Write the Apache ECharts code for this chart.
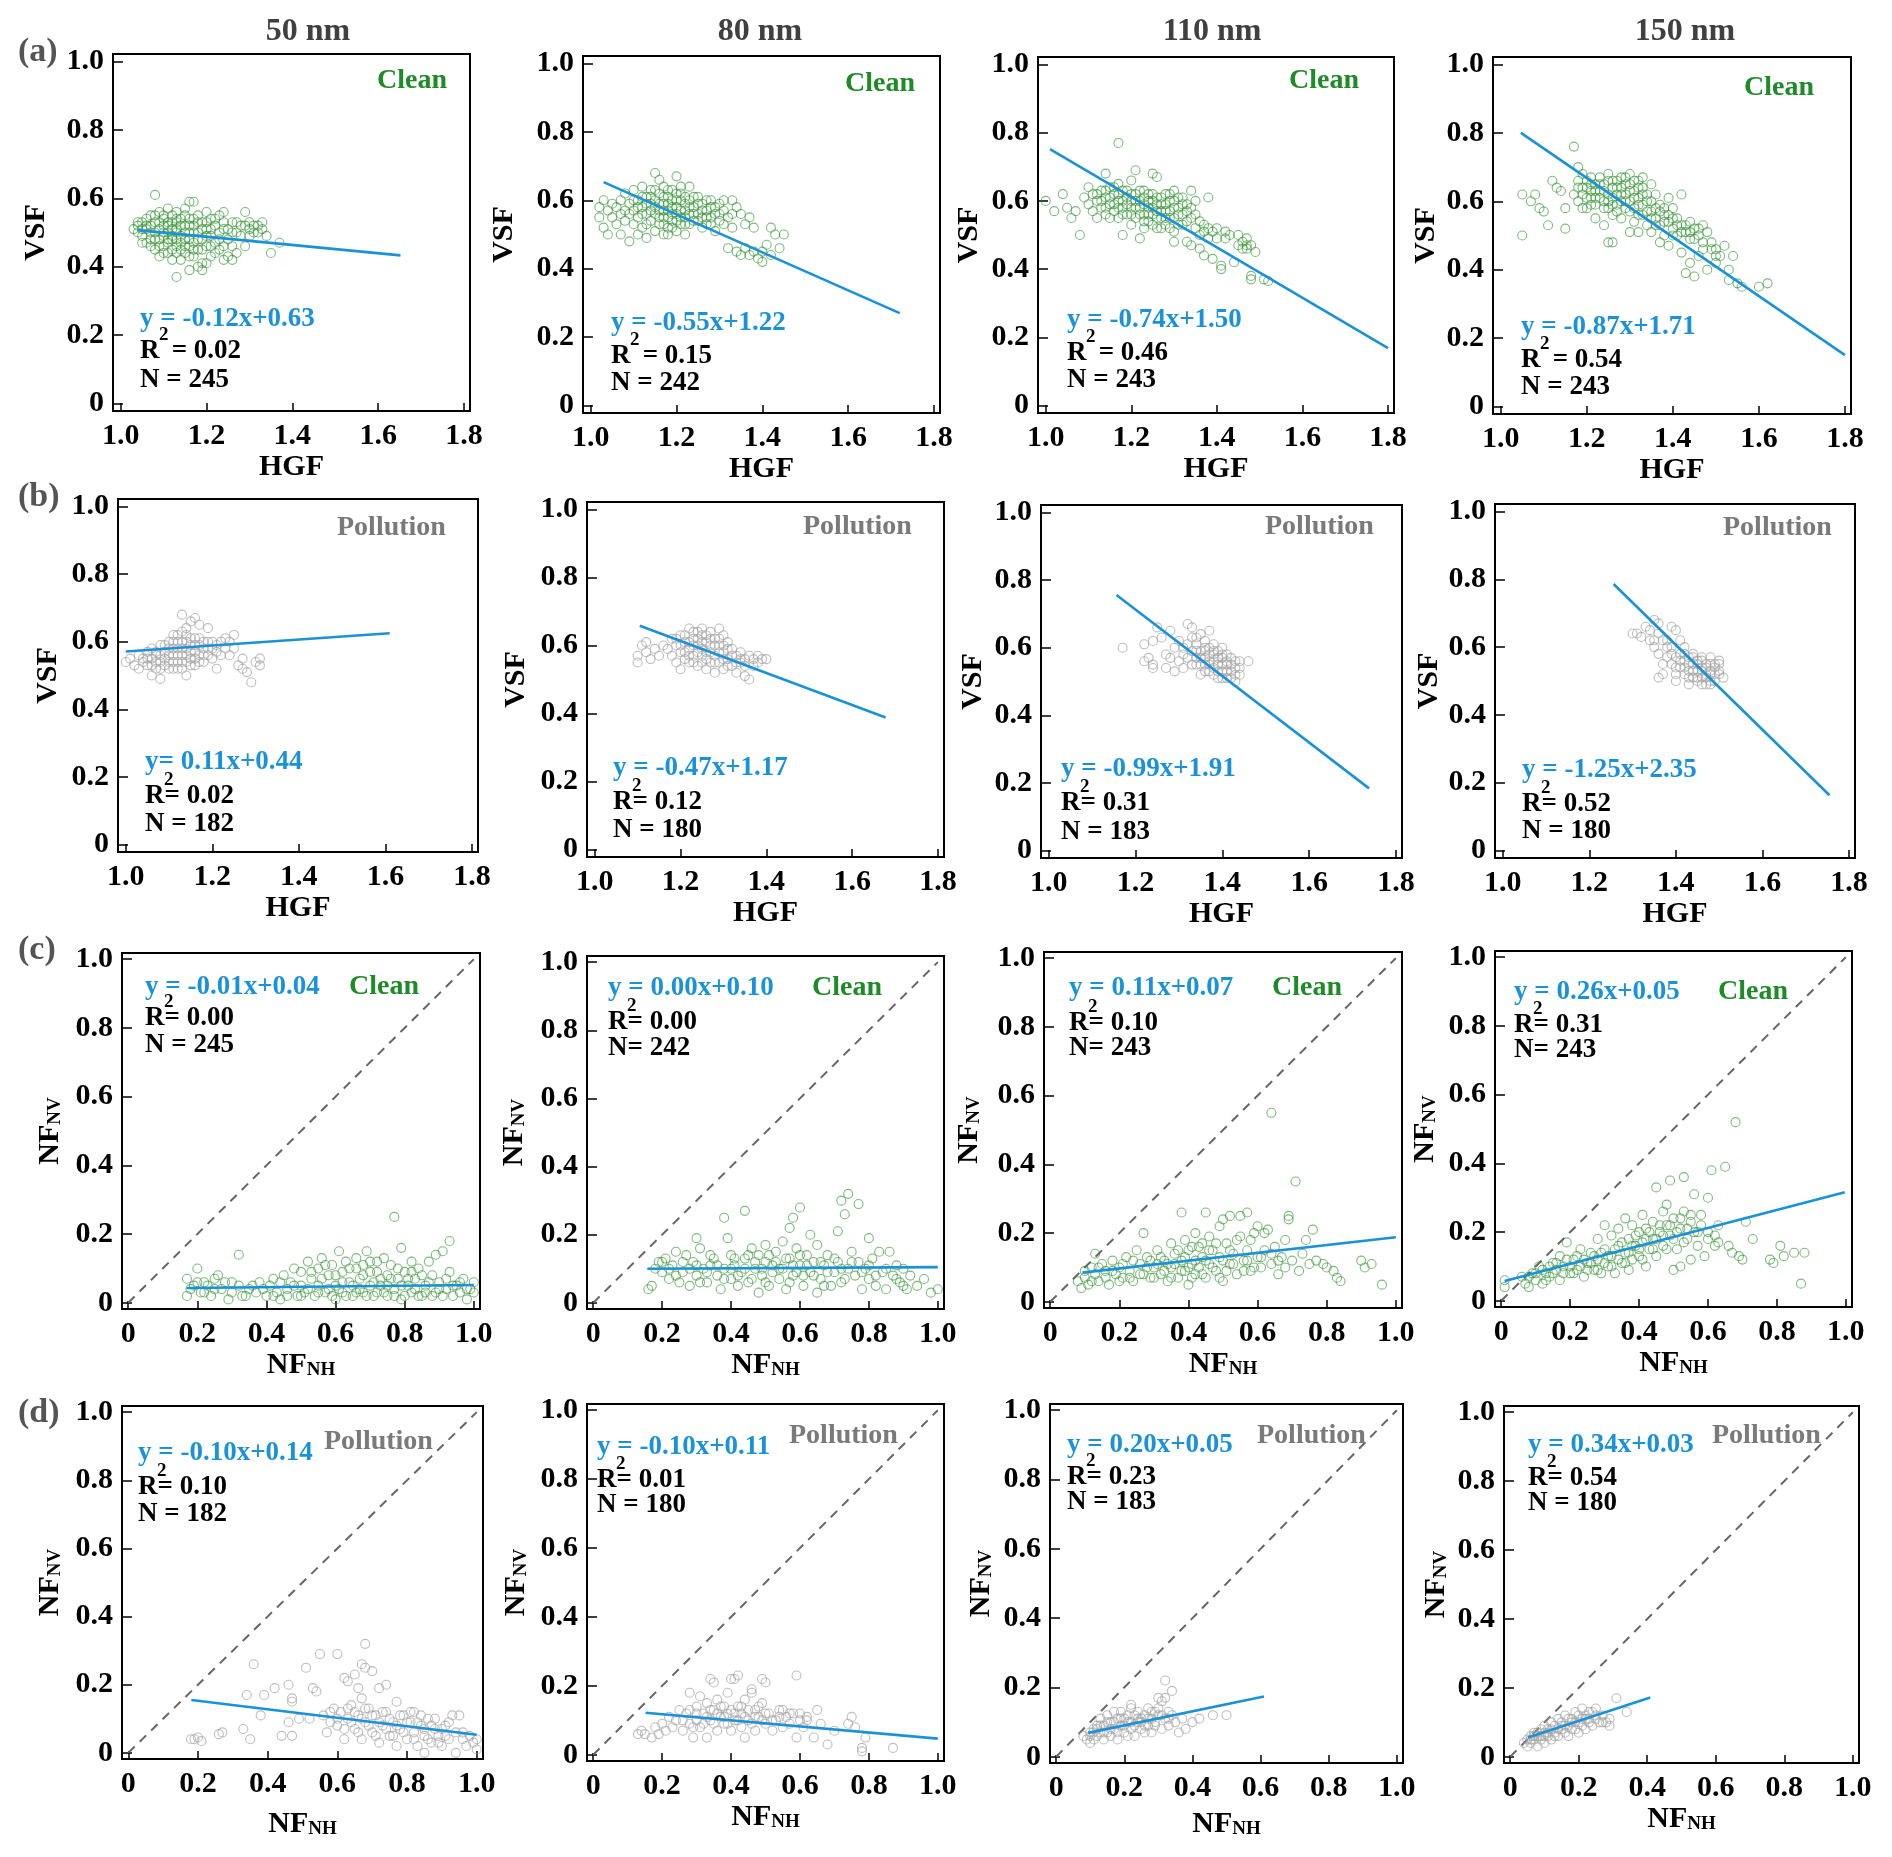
<!DOCTYPE html>
<html><head><meta charset="utf-8">
<script src="https://cdn.jsdelivr.net/npm/echarts@6/dist/echarts.min.js"></script>
<style>html,body{margin:0;padding:0;background:#fff}#c{width:1892px;height:1857px}</style>
</head><body><div id="c"></div>
<script>
// ---------------- DATA ----------------
const sizeTitles = ['50 nm', '80 nm', '110 nm', '150 nm'];
const rowLetters = ['(a)', '(b)', '(c)', '(d)'];
const hgfTicks = [1.0, 1.2, 1.4, 1.6, 1.8];
const fracTicks = [0, 0.2, 0.4, 0.6, 0.8, 1.0];

// (a) Clean: HGF vs VSF
const cleanHgfVsf50 = [[1.03,0.51],[1.04,0.52],[1.04,0.50],[1.05,0.53],[1.05,0.49],[1.06,0.54],[1.06,0.51],[1.06,0.47],[1.07,0.55],[1.07,0.52],[1.07,0.48],[1.08,0.61],[1.08,0.53],[1.08,0.50],[1.08,0.45],[1.09,0.56],[1.09,0.51],[1.09,0.48],[1.09,0.43],[1.10,0.54],[1.10,0.52],[1.10,0.49],[1.10,0.46],[1.11,0.57],[1.11,0.53],[1.11,0.50],[1.11,0.47],[1.11,0.44],[1.12,0.55],[1.12,0.51],[1.12,0.48],[1.12,0.42],[1.13,0.37],[1.13,0.56],[1.13,0.53],[1.13,0.50],[1.13,0.46],[1.14,0.54],[1.14,0.49],[1.14,0.45],[1.15,0.57],[1.15,0.52],[1.15,0.48],[1.15,0.44],[1.16,0.59],[1.16,0.54],[1.16,0.50],[1.16,0.46],[1.16,0.39],[1.17,0.59],[1.17,0.52],[1.17,0.47],[1.17,0.43],[1.18,0.55],[1.18,0.50],[1.18,0.45],[1.18,0.40],[1.19,0.53],[1.19,0.48],[1.19,0.41],[1.20,0.56],[1.20,0.51],[1.20,0.46],[1.21,0.54],[1.21,0.49],[1.21,0.43],[1.22,0.52],[1.22,0.47],[1.23,0.55],[1.23,0.50],[1.23,0.45],[1.24,0.56],[1.24,0.51],[1.25,0.48],[1.25,0.43],[1.26,0.53],[1.26,0.46],[1.27,0.50],[1.27,0.44],[1.28,0.52],[1.29,0.56],[1.29,0.46],[1.30,0.51],[1.30,0.49],[1.31,0.52],[1.32,0.50],[1.32,0.52],[1.33,0.51],[1.34,0.49],[1.35,0.44],[1.37,0.47],
  [1.04,0.53],[1.05,0.51],[1.05,0.47],[1.06,0.52],[1.07,0.50],[1.07,0.46],[1.08,0.55],[1.08,0.48],[1.09,0.53],[1.09,0.46],[1.10,0.55],[1.10,0.50],[1.10,0.44],[1.11,0.52],[1.11,0.48],[1.12,0.53],[1.12,0.49],[1.12,0.45],[1.13,0.54],[1.13,0.51],[1.13,0.48],[1.13,0.44],[1.14,0.52],[1.14,0.47],[1.14,0.42],[1.15,0.55],[1.15,0.50],[1.15,0.46],[1.16,0.52],[1.16,0.48],[1.16,0.43],[1.17,0.54],[1.17,0.50],[1.17,0.45],[1.18,0.53],[1.18,0.48],[1.19,0.51],[1.19,0.45],[1.20,0.53],[1.20,0.49],[1.21,0.51],[1.21,0.46],[1.22,0.54],[1.22,0.44],[1.23,0.48],[1.24,0.53],[1.24,0.46],[1.25,0.51],[1.26,0.50],[1.27,0.53],[1.28,0.49],[1.29,0.52],[1.30,0.53],[1.31,0.50],[1.33,0.53],[1.24,0.42],[1.26,0.42],[1.19,0.39],[1.20,0.41]];
const cleanHgfVsf80 = [[1.02,0.58],[1.02,0.55],[1.03,0.60],[1.03,0.52],[1.04,0.57],[1.04,0.50],[1.05,0.59],[1.05,0.55],[1.06,0.58],[1.06,0.53],[1.07,0.60],[1.07,0.56],[1.07,0.50],[1.08,0.62],[1.08,0.57],[1.08,0.54],[1.09,0.59],[1.09,0.48],[1.10,0.63],[1.10,0.57],[1.10,0.53],[1.11,0.60],[1.11,0.55],[1.11,0.50],[1.12,0.64],[1.12,0.58],[1.12,0.52],[1.13,0.61],[1.13,0.56],[1.13,0.49],[1.14,0.63],[1.14,0.59],[1.14,0.54],[1.15,0.68],[1.15,0.60],[1.15,0.56],[1.15,0.51],[1.16,0.66],[1.16,0.62],[1.16,0.57],[1.16,0.53],[1.17,0.64],[1.17,0.59],[1.17,0.55],[1.17,0.50],[1.18,0.61],[1.18,0.57],[1.18,0.52],[1.19,0.63],[1.19,0.58],[1.19,0.54],[1.20,0.67],[1.20,0.60],[1.20,0.56],[1.20,0.51],[1.21,0.62],[1.21,0.57],[1.21,0.53],[1.22,0.59],[1.22,0.55],[1.22,0.50],[1.23,0.64],[1.23,0.58],[1.23,0.53],[1.24,0.61],[1.24,0.56],[1.25,0.59],[1.25,0.54],[1.26,0.57],[1.26,0.52],[1.27,0.60],[1.27,0.55],[1.28,0.58],[1.28,0.53],[1.29,0.56],[1.29,0.51],[1.30,0.59],[1.30,0.54],[1.31,0.57],[1.32,0.55],[1.32,0.46],[1.33,0.60],[1.33,0.52],[1.34,0.45],[1.35,0.56],[1.35,0.44],[1.36,0.53],[1.37,0.55],[1.38,0.45],[1.38,0.52],[1.39,0.43],[1.40,0.42],[1.41,0.47],[1.42,0.52],[1.43,0.50],[1.44,0.46],[1.45,0.50],
  [1.09,0.56],[1.10,0.60],[1.11,0.58],[1.12,0.56],[1.12,0.61],[1.13,0.59],[1.13,0.53],[1.14,0.57],[1.14,0.61],[1.15,0.58],[1.15,0.63],[1.16,0.59],[1.16,0.55],[1.17,0.61],[1.17,0.57],[1.17,0.53],[1.18,0.63],[1.18,0.59],[1.18,0.55],[1.18,0.50],[1.19,0.60],[1.19,0.56],[1.19,0.52],[1.20,0.62],[1.20,0.58],[1.20,0.54],[1.21,0.64],[1.21,0.60],[1.21,0.55],[1.22,0.61],[1.22,0.57],[1.22,0.53],[1.23,0.60],[1.23,0.56],[1.24,0.58],[1.24,0.54],[1.25,0.61],[1.25,0.56],[1.26,0.59],[1.26,0.55],[1.27,0.57],[1.27,0.53],[1.28,0.60],[1.28,0.55],[1.29,0.58],[1.30,0.56],[1.31,0.60],[1.31,0.53],[1.33,0.56],[1.34,0.58],[1.36,0.46],[1.37,0.44],[1.40,0.45],[1.42,0.44]];
const cleanHgfVsf110 = [[1.00,0.60],[1.02,0.57],[1.04,0.62],[1.05,0.58],[1.06,0.55],[1.07,0.57],[1.08,0.50],[1.09,0.61],[1.10,0.64],[1.10,0.59],[1.11,0.62],[1.11,0.57],[1.12,0.60],[1.12,0.55],[1.13,0.63],[1.13,0.58],[1.14,0.68],[1.14,0.61],[1.14,0.56],[1.15,0.64],[1.15,0.59],[1.15,0.55],[1.16,0.62],[1.16,0.57],[1.17,0.77],[1.17,0.65],[1.17,0.60],[1.17,0.55],[1.18,0.63],[1.18,0.58],[1.18,0.50],[1.19,0.61],[1.19,0.56],[1.20,0.66],[1.20,0.62],[1.20,0.58],[1.20,0.53],[1.21,0.69],[1.21,0.60],[1.21,0.55],[1.22,0.63],[1.22,0.58],[1.22,0.49],[1.23,0.61],[1.23,0.56],[1.23,0.52],[1.24,0.62],[1.24,0.58],[1.24,0.54],[1.25,0.68],[1.25,0.60],[1.25,0.56],[1.26,0.67],[1.26,0.61],[1.26,0.57],[1.26,0.52],[1.27,0.59],[1.27,0.55],[1.28,0.62],[1.28,0.57],[1.28,0.53],[1.29,0.60],[1.29,0.55],[1.30,0.63],[1.30,0.58],[1.30,0.51],[1.30,0.48],[1.31,0.61],[1.31,0.56],[1.32,0.59],[1.32,0.53],[1.33,0.57],[1.33,0.48],[1.34,0.63],[1.34,0.55],[1.34,0.47],[1.35,0.60],[1.35,0.52],[1.36,0.50],[1.36,0.46],[1.37,0.53],[1.37,0.44],[1.38,0.61],[1.38,0.52],[1.39,0.43],[1.40,0.52],[1.40,0.49],[1.41,0.41],[1.41,0.40],[1.42,0.51],[1.43,0.50],[1.44,0.42],[1.45,0.50],[1.46,0.48],[1.47,0.46],[1.47,0.49],[1.48,0.47],[1.48,0.38],[1.48,0.37],[1.49,0.45],[1.51,0.37],[1.52,0.365],
  [1.12,0.62],[1.13,0.60],[1.14,0.63],[1.14,0.58],[1.15,0.61],[1.16,0.64],[1.16,0.59],[1.17,0.62],[1.17,0.58],[1.18,0.60],[1.18,0.56],[1.19,0.63],[1.19,0.59],[1.20,0.60],[1.20,0.56],[1.21,0.62],[1.21,0.58],[1.22,0.60],[1.22,0.56],[1.23,0.63],[1.23,0.59],[1.23,0.54],[1.24,0.60],[1.24,0.56],[1.25,0.62],[1.25,0.58],[1.25,0.53],[1.26,0.59],[1.26,0.55],[1.27,0.61],[1.27,0.57],[1.27,0.52],[1.28,0.59],[1.28,0.55],[1.29,0.62],[1.29,0.57],[1.29,0.52],[1.30,0.60],[1.30,0.55],[1.31,0.58],[1.31,0.53],[1.32,0.61],[1.32,0.56],[1.33,0.59],[1.33,0.54],[1.34,0.58],[1.35,0.56],[1.36,0.54],[1.37,0.51],[1.38,0.49],[1.39,0.51],[1.42,0.49],[1.45,0.47],[1.46,0.46],[1.47,0.47]];
const cleanHgfVsf150 = [[1.05,0.62],[1.05,0.50],[1.07,0.60],[1.08,0.62],[1.09,0.58],[1.10,0.57],[1.11,0.53],[1.12,0.66],[1.13,0.64],[1.14,0.63],[1.15,0.52],[1.15,0.58],[1.17,0.76],[1.17,0.62],[1.18,0.70],[1.18,0.66],[1.18,0.60],[1.19,0.68],[1.19,0.64],[1.19,0.58],[1.20,0.66],[1.20,0.61],[1.21,0.67],[1.21,0.63],[1.21,0.59],[1.22,0.65],[1.22,0.61],[1.22,0.55],[1.23,0.67],[1.23,0.63],[1.24,0.65],[1.24,0.60],[1.24,0.53],[1.25,0.68],[1.25,0.62],[1.25,0.58],[1.25,0.48],[1.26,0.66],[1.26,0.61],[1.26,0.56],[1.26,0.48],[1.27,0.64],[1.27,0.59],[1.28,0.67],[1.28,0.62],[1.28,0.55],[1.29,0.65],[1.29,0.60],[1.30,0.68],[1.30,0.63],[1.30,0.57],[1.30,0.51],[1.31,0.66],[1.31,0.61],[1.31,0.54],[1.32,0.64],[1.32,0.59],[1.32,0.51],[1.33,0.67],[1.33,0.62],[1.33,0.56],[1.34,0.60],[1.34,0.53],[1.35,0.65],[1.35,0.57],[1.35,0.51],[1.36,0.62],[1.36,0.55],[1.37,0.59],[1.37,0.53],[1.37,0.48],[1.38,0.56],[1.38,0.50],[1.39,0.61],[1.39,0.54],[1.39,0.47],[1.40,0.58],[1.40,0.52],[1.41,0.55],[1.41,0.50],[1.42,0.62],[1.42,0.53],[1.42,0.45],[1.43,0.51],[1.43,0.39],[1.44,0.54],[1.44,0.49],[1.44,0.42],[1.45,0.52],[1.45,0.38],[1.46,0.50],[1.46,0.44],[1.47,0.53],[1.47,0.46],[1.48,0.40],[1.49,0.48],[1.50,0.46],[1.50,0.42],[1.51,0.44],[1.52,0.47],[1.53,0.40],[1.53,0.37],[1.54,0.44],[1.55,0.36],[1.56,0.35],[1.60,0.35],[1.62,0.36],
  [1.18,0.64],[1.19,0.62],[1.20,0.64],[1.20,0.58],[1.21,0.65],[1.21,0.61],[1.22,0.63],[1.22,0.59],[1.23,0.65],[1.23,0.61],[1.24,0.63],[1.24,0.58],[1.25,0.66],[1.25,0.60],[1.26,0.64],[1.26,0.59],[1.27,0.66],[1.27,0.62],[1.27,0.57],[1.28,0.64],[1.28,0.60],[1.29,0.67],[1.29,0.62],[1.29,0.58],[1.30,0.65],[1.30,0.60],[1.31,0.63],[1.31,0.58],[1.32,0.66],[1.32,0.61],[1.32,0.56],[1.33,0.64],[1.33,0.59],[1.34,0.62],[1.34,0.57],[1.35,0.60],[1.35,0.55],[1.36,0.58],[1.36,0.53],[1.37,0.57],[1.38,0.58],[1.38,0.54],[1.39,0.56],[1.40,0.55],[1.40,0.50],[1.41,0.53],[1.42,0.51],[1.43,0.53],[1.44,0.51],[1.45,0.49],[1.46,0.52],[1.47,0.48],[1.48,0.51],[1.49,0.46],[1.50,0.44]];

// (b) Pollution: HGF vs VSF
const pollHgfVsf50 = [[1.00,0.54],[1.01,0.55],[1.02,0.53],[1.03,0.56],[1.03,0.52],[1.04,0.55],[1.05,0.57],[1.05,0.53],[1.06,0.58],[1.06,0.55],[1.06,0.50],[1.07,0.56],[1.07,0.52],[1.08,0.59],[1.08,0.54],[1.08,0.49],[1.09,0.57],[1.09,0.53],[1.10,0.60],[1.10,0.56],[1.10,0.52],[1.11,0.62],[1.11,0.58],[1.11,0.54],[1.12,0.60],[1.12,0.56],[1.12,0.52],[1.13,0.68],[1.13,0.63],[1.13,0.58],[1.13,0.54],[1.14,0.64],[1.14,0.60],[1.14,0.56],[1.14,0.50],[1.15,0.66],[1.15,0.61],[1.15,0.57],[1.15,0.53],[1.16,0.67],[1.16,0.59],[1.16,0.55],[1.17,0.65],[1.17,0.61],[1.17,0.56],[1.18,0.58],[1.18,0.54],[1.19,0.64],[1.19,0.60],[1.19,0.56],[1.20,0.58],[1.20,0.55],[1.21,0.57],[1.21,0.52],[1.22,0.60],[1.22,0.56],[1.23,0.61],[1.24,0.56],[1.25,0.62],[1.25,0.58],[1.26,0.53],[1.27,0.55],[1.27,0.52],[1.28,0.51],[1.29,0.48],[1.30,0.54],[1.31,0.53],[1.31,0.55],
  [1.04,0.54],[1.05,0.55],[1.06,0.53],[1.07,0.57],[1.07,0.54],[1.08,0.56],[1.08,0.52],[1.09,0.55],[1.09,0.59],[1.10,0.58],[1.10,0.54],[1.11,0.56],[1.11,0.60],[1.11,0.52],[1.12,0.58],[1.12,0.54],[1.12,0.62],[1.13,0.60],[1.13,0.56],[1.13,0.52],[1.14,0.58],[1.14,0.62],[1.14,0.54],[1.15,0.59],[1.15,0.55],[1.16,0.61],[1.16,0.57],[1.16,0.53],[1.17,0.59],[1.17,0.54],[1.18,0.60],[1.18,0.56],[1.19,0.58],[1.20,0.60],[1.21,0.59],[1.23,0.58],[1.24,0.60]];
const pollHgfVsf80 = [[1.10,0.57],[1.10,0.55],[1.11,0.60],[1.12,0.61],[1.12,0.58],[1.13,0.56],[1.14,0.59],[1.15,0.57],[1.16,0.60],[1.17,0.59],[1.18,0.62],[1.18,0.57],[1.19,0.60],[1.19,0.55],[1.20,0.63],[1.20,0.58],[1.20,0.53],[1.21,0.61],[1.21,0.56],[1.22,0.65],[1.22,0.59],[1.22,0.55],[1.23,0.62],[1.23,0.57],[1.24,0.64],[1.24,0.60],[1.24,0.54],[1.25,0.65],[1.25,0.61],[1.25,0.57],[1.26,0.63],[1.26,0.58],[1.26,0.53],[1.27,0.64],[1.27,0.60],[1.27,0.55],[1.28,0.62],[1.28,0.57],[1.28,0.52],[1.29,0.65],[1.29,0.60],[1.29,0.55],[1.30,0.63],[1.30,0.58],[1.30,0.53],[1.31,0.61],[1.31,0.56],[1.32,0.59],[1.32,0.54],[1.33,0.57],[1.33,0.52],[1.34,0.58],[1.34,0.55],[1.35,0.56],[1.35,0.51],[1.36,0.57],[1.36,0.50],[1.37,0.54],[1.38,0.55],[1.39,0.56],[1.40,0.56],
  [1.19,0.62],[1.20,0.60],[1.21,0.63],[1.21,0.58],[1.22,0.61],[1.22,0.57],[1.23,0.64],[1.23,0.60],[1.23,0.55],[1.24,0.62],[1.24,0.58],[1.25,0.63],[1.25,0.59],[1.25,0.55],[1.26,0.61],[1.26,0.56],[1.27,0.62],[1.27,0.58],[1.28,0.60],[1.28,0.55],[1.29,0.62],[1.29,0.58],[1.30,0.60],[1.30,0.56],[1.31,0.59],[1.31,0.54],[1.32,0.57],[1.33,0.55],[1.34,0.56],[1.35,0.54],[1.37,0.56],[1.38,0.57]];
const pollHgfVsf110 = [[1.17,0.60],[1.22,0.61],[1.22,0.56],[1.23,0.57],[1.24,0.55],[1.24,0.62],[1.25,0.66],[1.26,0.63],[1.27,0.58],[1.28,0.57],[1.28,0.65],[1.24,0.54],[1.29,0.60],[1.30,0.56],[1.30,0.62],[1.31,0.58],[1.31,0.54],[1.32,0.67],[1.32,0.61],[1.32,0.57],[1.33,0.66],[1.33,0.63],[1.33,0.59],[1.33,0.55],[1.34,0.61],[1.34,0.57],[1.35,0.64],[1.35,0.59],[1.35,0.55],[1.35,0.52],[1.36,0.60],[1.36,0.57],[1.36,0.53],[1.37,0.65],[1.37,0.58],[1.37,0.55],[1.38,0.61],[1.38,0.56],[1.38,0.52],[1.39,0.59],[1.39,0.55],[1.39,0.51],[1.40,0.60],[1.40,0.57],[1.40,0.53],[1.41,0.58],[1.41,0.55],[1.41,0.51],[1.42,0.57],[1.42,0.53],[1.43,0.56],[1.43,0.52],[1.44,0.54],[1.44,0.52],[1.46,0.56],[1.27,0.54],[1.29,0.53],
  [1.34,0.59],[1.34,0.55],[1.35,0.57],[1.36,0.62],[1.36,0.55],[1.37,0.60],[1.37,0.56],[1.37,0.53],[1.38,0.59],[1.38,0.54],[1.39,0.57],[1.39,0.53],[1.40,0.58],[1.40,0.55],[1.40,0.51],[1.41,0.56],[1.41,0.53],[1.42,0.55],[1.42,0.51],[1.43,0.54],[1.43,0.50],[1.44,0.56],[1.36,0.59],[1.34,0.63],[1.31,0.60],[1.38,0.58]];
const pollHgfVsf150 = [[1.30,0.64],[1.31,0.64],[1.32,0.63],[1.33,0.66],[1.34,0.65],[1.34,0.62],[1.35,0.68],[1.36,0.67],[1.35,0.60],[1.36,0.58],[1.37,0.55],[1.36,0.51],[1.37,0.52],[1.37,0.62],[1.38,0.57],[1.38,0.60],[1.39,0.66],[1.40,0.65],[1.41,0.62],[1.39,0.60],[1.39,0.55],[1.40,0.57],[1.40,0.52],[1.41,0.58],[1.41,0.54],[1.42,0.56],[1.42,0.52],[1.42,0.60],[1.43,0.57],[1.43,0.53],[1.44,0.55],[1.44,0.51],[1.44,0.58],[1.45,0.56],[1.45,0.53],[1.45,0.50],[1.46,0.57],[1.46,0.54],[1.46,0.51],[1.47,0.55],[1.47,0.52],[1.47,0.49],[1.48,0.57],[1.48,0.53],[1.48,0.50],[1.49,0.55],[1.49,0.52],[1.50,0.56],[1.50,0.55],[1.50,0.53],[1.51,0.51],[1.43,0.49],[1.40,0.50],
  [1.40,0.54],[1.41,0.56],[1.42,0.58],[1.42,0.54],[1.43,0.55],[1.43,0.51],[1.44,0.57],[1.44,0.53],[1.45,0.55],[1.45,0.51],[1.46,0.56],[1.46,0.53],[1.46,0.49],[1.47,0.54],[1.47,0.51],[1.48,0.55],[1.48,0.52],[1.48,0.49],[1.49,0.54],[1.49,0.50],[1.50,0.52],[1.39,0.58],[1.38,0.62],[1.36,0.64],[1.35,0.62]];

// (c) Clean: NF_NH vs NF_NV
const cleanNf50 = [[0.17,0.07],[0.17,0.02],[0.18,0.04],[0.19,0.05],[0.20,0.10],[0.21,0.03],[0.22,0.06],[0.23,0.05],[0.24,0.02],[0.25,0.07],[0.26,0.08],[0.27,0.04],[0.28,0.06],[0.29,0.01],[0.30,0.03],[0.32,0.14],[0.32,0.05],[0.33,0.02],[0.35,0.04],[0.37,0.03],[0.38,0.06],[0.40,0.02],[0.41,0.05],[0.42,0.07],[0.43,0.03],[0.44,0.01],[0.45,0.08],[0.46,0.04],[0.47,0.06],[0.48,0.10],[0.49,0.02],[0.50,0.09],[0.50,0.05],[0.51,0.03],[0.52,0.12],[0.53,0.07],[0.54,0.02],[0.55,0.10],[0.55,0.05],[0.56,0.13],[0.57,0.03],[0.58,0.08],[0.59,0.11],[0.60,0.05],[0.60,0.01],[0.61,0.15],[0.62,0.09],[0.62,0.03],[0.63,0.12],[0.64,0.06],[0.65,0.02],[0.66,0.10],[0.66,0.13],[0.67,0.04],[0.68,0.08],[0.69,0.15],[0.69,0.02],[0.70,0.12],[0.71,0.06],[0.72,0.09],[0.72,0.03],[0.73,0.05],[0.74,0.13],[0.75,0.08],[0.75,0.02],[0.76,0.11],[0.77,0.25],[0.77,0.04],[0.78,0.07],[0.79,0.16],[0.79,0.01],[0.80,0.09],[0.81,0.05],[0.82,0.12],[0.82,0.03],[0.83,0.07],[0.84,0.10],[0.85,0.02],[0.86,0.05],[0.87,0.12],[0.88,0.08],[0.89,0.14],[0.89,0.03],[0.90,0.06],[0.91,0.15],[0.92,0.04],[0.93,0.18],[0.93,0.09],[0.94,0.02],[0.95,0.05],[0.96,0.03],[0.97,0.07],[0.98,0.01],[0.99,0.04],[1.00,0.03],[1.00,0.06],
  [0.20,0.06],[0.22,0.03],[0.25,0.04],[0.30,0.06],[0.34,0.02],[0.36,0.05],[0.39,0.04],[0.42,0.02],[0.44,0.06],[0.46,0.02],[0.48,0.05],[0.50,0.02],[0.52,0.04],[0.53,0.09],[0.55,0.03],[0.56,0.07],[0.57,0.11],[0.58,0.04],[0.59,0.02],[0.60,0.08],[0.61,0.04],[0.62,0.06],[0.63,0.02],[0.64,0.10],[0.65,0.05],[0.66,0.03],[0.67,0.07],[0.68,0.11],[0.68,0.03],[0.70,0.05],[0.70,0.09],[0.71,0.02],[0.72,0.12],[0.73,0.07],[0.74,0.03],[0.75,0.05],[0.76,0.07],[0.77,0.02],[0.78,0.10],[0.79,0.05],[0.80,0.02],[0.81,0.07],[0.82,0.09],[0.83,0.04],[0.84,0.02],[0.85,0.08],[0.86,0.03],[0.87,0.06],[0.88,0.02],[0.90,0.04],[0.91,0.02],[0.92,0.07],[0.94,0.05],[0.96,0.06],[0.98,0.04]];
const cleanNf80 = [[0.16,0.04],[0.17,0.05],[0.18,0.10],[0.19,0.12],[0.20,0.09],[0.21,0.13],[0.22,0.07],[0.23,0.11],[0.24,0.15],[0.25,0.06],[0.26,0.09],[0.27,0.14],[0.28,0.05],[0.29,0.12],[0.30,0.19],[0.30,0.08],[0.31,0.16],[0.32,0.10],[0.33,0.06],[0.34,0.11],[0.35,0.13],[0.36,0.08],[0.37,0.04],[0.38,0.25],[0.38,0.10],[0.39,0.19],[0.40,0.07],[0.40,0.14],[0.41,0.11],[0.42,0.05],[0.43,0.09],[0.44,0.27],[0.44,0.13],[0.45,0.06],[0.46,0.16],[0.47,0.10],[0.48,0.03],[0.48,0.14],[0.49,0.08],[0.50,0.12],[0.50,0.17],[0.51,0.05],[0.52,0.11],[0.53,0.15],[0.54,0.07],[0.55,0.18],[0.55,0.10],[0.56,0.04],[0.57,0.22],[0.57,0.13],[0.58,0.25],[0.58,0.08],[0.59,0.16],[0.60,0.28],[0.60,0.11],[0.61,0.05],[0.62,0.14],[0.63,0.20],[0.63,0.09],[0.64,0.12],[0.65,0.17],[0.65,0.03],[0.66,0.07],[0.67,0.11],[0.68,0.14],[0.69,0.05],[0.70,0.09],[0.71,0.21],[0.71,0.12],[0.72,0.30],[0.72,0.06],[0.73,0.26],[0.74,0.32],[0.74,0.10],[0.75,0.15],[0.76,0.08],[0.77,0.29],[0.77,0.12],[0.78,0.04],[0.79,0.10],[0.80,0.19],[0.80,0.07],[0.81,0.13],[0.82,0.05],[0.83,0.15],[0.84,0.09],[0.85,0.04],[0.86,0.15],[0.87,0.08],[0.88,0.11],[0.89,0.06],[0.90,0.10],[0.91,0.04],[0.92,0.08],[0.94,0.05],[0.96,0.07],[0.98,0.03],[1.00,0.04],
  [0.20,0.12],[0.22,0.10],[0.24,0.08],[0.26,0.12],[0.28,0.10],[0.30,0.11],[0.31,0.06],[0.33,0.09],[0.34,0.14],[0.36,0.11],[0.38,0.07],[0.40,0.10],[0.41,0.13],[0.42,0.08],[0.44,0.10],[0.45,0.14],[0.46,0.07],[0.47,0.12],[0.49,0.10],[0.50,0.06],[0.51,0.14],[0.52,0.09],[0.53,0.12],[0.54,0.10],[0.56,0.13],[0.57,0.06],[0.58,0.11],[0.59,0.09],[0.60,0.14],[0.61,0.08],[0.62,0.11],[0.64,0.08],[0.66,0.12],[0.67,0.05],[0.68,0.09],[0.70,0.13],[0.72,0.10],[0.73,0.07],[0.75,0.12],[0.78,0.09],[0.80,0.11],[0.82,0.08],[0.85,0.10],[0.88,0.07],[0.90,0.05]];
const cleanNf110 = [[0.08,0.06],[0.09,0.04],[0.10,0.07],[0.11,0.05],[0.12,0.10],[0.13,0.14],[0.13,0.08],[0.14,0.06],[0.15,0.11],[0.16,0.09],[0.17,0.05],[0.18,0.12],[0.19,0.08],[0.20,0.10],[0.21,0.07],[0.22,0.13],[0.23,0.09],[0.24,0.06],[0.25,0.15],[0.26,0.11],[0.27,0.20],[0.27,0.08],[0.28,0.13],[0.29,0.07],[0.30,0.10],[0.31,0.15],[0.32,0.08],[0.33,0.12],[0.34,0.06],[0.35,0.17],[0.35,0.10],[0.36,0.14],[0.37,0.07],[0.38,0.26],[0.38,0.12],[0.39,0.18],[0.39,0.09],[0.40,0.15],[0.40,0.05],[0.41,0.11],[0.42,0.20],[0.42,0.08],[0.43,0.16],[0.44,0.13],[0.45,0.26],[0.45,0.07],[0.46,0.19],[0.46,0.11],[0.47,0.15],[0.48,0.09],[0.49,0.22],[0.49,0.13],[0.50,0.24],[0.50,0.06],[0.51,0.17],[0.52,0.25],[0.52,0.11],[0.53,0.14],[0.54,0.08],[0.55,0.25],[0.55,0.19],[0.56,0.12],[0.57,0.26],[0.57,0.15],[0.58,0.09],[0.59,0.20],[0.60,0.13],[0.60,0.22],[0.61,0.10],[0.62,0.15],[0.63,0.21],[0.64,0.55],[0.64,0.11],[0.65,0.16],[0.66,0.08],[0.67,0.13],[0.68,0.18],[0.69,0.25],[0.69,0.24],[0.70,0.12],[0.71,0.35],[0.72,0.09],[0.73,0.14],[0.74,0.18],[0.75,0.11],[0.76,0.21],[0.77,0.12],[0.79,0.11],[0.80,0.10],[0.82,0.09],[0.83,0.07],[0.84,0.06],[0.90,0.12],[0.91,0.10],[0.93,0.11],[0.96,0.05],
  [0.10,0.09],[0.12,0.06],[0.14,0.10],[0.16,0.07],[0.18,0.09],[0.20,0.06],[0.21,0.11],[0.23,0.07],[0.24,0.12],[0.26,0.08],[0.28,0.10],[0.29,0.12],[0.30,0.07],[0.31,0.11],[0.32,0.13],[0.33,0.09],[0.34,0.11],[0.35,0.07],[0.36,0.11],[0.37,0.15],[0.38,0.09],[0.39,0.13],[0.40,0.10],[0.41,0.16],[0.41,0.07],[0.42,0.12],[0.43,0.10],[0.44,0.17],[0.44,0.08],[0.45,0.12],[0.46,0.15],[0.47,0.10],[0.48,0.17],[0.49,0.07],[0.50,0.12],[0.51,0.09],[0.52,0.15],[0.53,0.11],[0.54,0.18],[0.56,0.09],[0.57,0.12],[0.58,0.18],[0.59,0.10],[0.61,0.13],[0.62,0.20],[0.64,0.14],[0.66,0.12],[0.68,0.10]];
const cleanNf150 = [[0.01,0.06],[0.01,0.04],[0.06,0.07],[0.07,0.05],[0.08,0.04],[0.09,0.08],[0.10,0.06],[0.11,0.10],[0.12,0.05],[0.13,0.08],[0.14,0.07],[0.15,0.11],[0.16,0.09],[0.17,0.13],[0.17,0.06],[0.18,0.10],[0.19,0.17],[0.20,0.08],[0.21,0.12],[0.22,0.09],[0.23,0.15],[0.24,0.07],[0.25,0.11],[0.26,0.14],[0.27,0.09],[0.28,0.18],[0.28,0.12],[0.29,0.08],[0.30,0.22],[0.30,0.15],[0.31,0.10],[0.32,0.19],[0.32,0.13],[0.33,0.08],[0.34,0.21],[0.34,0.16],[0.35,0.11],[0.36,0.24],[0.36,0.14],[0.37,0.18],[0.37,0.09],[0.38,0.22],[0.38,0.12],[0.39,0.16],[0.40,0.20],[0.40,0.13],[0.41,0.25],[0.41,0.17],[0.42,0.21],[0.42,0.10],[0.43,0.15],[0.44,0.23],[0.44,0.18],[0.45,0.33],[0.45,0.13],[0.46,0.20],[0.47,0.26],[0.47,0.16],[0.48,0.22],[0.48,0.28],[0.49,0.35],[0.49,0.19],[0.50,0.09],[0.50,0.24],[0.51,0.15],[0.52,0.21],[0.52,0.10],[0.53,0.36],[0.53,0.26],[0.54,0.18],[0.55,0.23],[0.55,0.12],[0.56,0.31],[0.56,0.20],[0.57,0.16],[0.58,0.25],[0.59,0.13],[0.60,0.30],[0.60,0.18],[0.61,0.38],[0.62,0.16],[0.63,0.22],[0.63,0.17],[0.65,0.39],[0.66,0.16],[0.67,0.14],[0.68,0.52],[0.69,0.13],[0.70,0.12],[0.71,0.23],[0.73,0.18],[0.78,0.12],[0.79,0.11],[0.81,0.16],[0.82,0.13],[0.85,0.14],[0.87,0.05],[0.88,0.14],
  [0.08,0.07],[0.10,0.08],[0.12,0.09],[0.13,0.06],[0.14,0.10],[0.15,0.08],[0.16,0.11],[0.18,0.08],[0.19,0.12],[0.20,0.10],[0.21,0.08],[0.22,0.13],[0.23,0.10],[0.24,0.12],[0.25,0.09],[0.26,0.11],[0.27,0.13],[0.28,0.09],[0.29,0.14],[0.30,0.11],[0.31,0.13],[0.32,0.10],[0.33,0.15],[0.34,0.12],[0.35,0.17],[0.36,0.11],[0.37,0.14],[0.38,0.16],[0.39,0.19],[0.40,0.15],[0.41,0.12],[0.42,0.18],[0.43,0.20],[0.44,0.15],[0.45,0.18],[0.46,0.22],[0.47,0.19],[0.48,0.15],[0.49,0.22],[0.50,0.18],[0.51,0.20],[0.52,0.24],[0.53,0.17],[0.54,0.21],[0.55,0.25],[0.57,0.20],[0.58,0.22],[0.60,0.20],[0.62,0.19]];

// (d) Pollution: NF_NH vs NF_NV
const pollNf50 = [[0.18,0.04],[0.19,0.04],[0.20,0.045],[0.21,0.035],[0.26,0.055],[0.27,0.06],[0.33,0.07],[0.34,0.17],[0.35,0.04],[0.36,0.26],[0.38,0.11],[0.39,0.17],[0.42,0.19],[0.44,0.05],[0.46,0.20],[0.46,0.09],[0.47,0.15],[0.47,0.16],[0.47,0.05],[0.49,0.10],[0.51,0.25],[0.52,0.10],[0.53,0.19],[0.54,0.18],[0.55,0.29],[0.56,0.11],[0.57,0.06],[0.58,0.09],[0.59,0.13],[0.60,0.29],[0.60,0.08],[0.61,0.12],[0.62,0.22],[0.62,0.04],[0.63,0.21],[0.63,0.10],[0.64,0.14],[0.65,0.23],[0.65,0.07],[0.66,0.19],[0.66,0.11],[0.67,0.26],[0.67,0.16],[0.67,0.04],[0.68,0.32],[0.68,0.25],[0.68,0.09],[0.69,0.13],[0.70,0.24],[0.70,0.06],[0.71,0.11],[0.72,0.19],[0.72,0.03],[0.73,0.08],[0.74,0.20],[0.74,0.12],[0.75,0.05],[0.76,0.09],[0.77,0.15],[0.77,0.02],[0.78,0.07],[0.79,0.11],[0.80,0.04],[0.81,0.09],[0.82,0.06],[0.82,0.12],[0.83,0.02],[0.84,0.08],[0.85,0.05],[0.85,0.00],[0.86,0.10],[0.87,0.03],[0.88,0.07],[0.89,0.05],[0.90,0.02],[0.91,0.08],[0.92,0.04],[0.93,0.11],[0.94,0.00],[0.95,0.11],[0.96,0.06],[0.97,0.02],[0.98,0.05],[0.99,0.03],[1.00,0.01],[1.00,0.04],
  [0.58,0.12],[0.60,0.10],[0.62,0.07],[0.63,0.13],[0.64,0.09],[0.65,0.12],[0.66,0.06],[0.67,0.10],[0.68,0.13],[0.69,0.08],[0.70,0.11],[0.71,0.05],[0.72,0.09],[0.73,0.12],[0.74,0.07],[0.75,0.10],[0.76,0.05],[0.77,0.08],[0.78,0.11],[0.79,0.06],[0.80,0.09],[0.81,0.12],[0.82,0.04],[0.83,0.09],[0.84,0.11],[0.85,0.07],[0.86,0.04],[0.87,0.08],[0.88,0.10],[0.89,0.03],[0.90,0.07],[0.91,0.05],[0.92,0.09],[0.94,0.06],[0.96,0.04]];
const pollNf80 = [[0.13,0.06],[0.14,0.07],[0.15,0.06],[0.17,0.05],[0.18,0.08],[0.19,0.06],[0.20,0.09],[0.21,0.07],[0.22,0.11],[0.23,0.08],[0.24,0.10],[0.25,0.13],[0.26,0.07],[0.27,0.12],[0.28,0.09],[0.28,0.18],[0.29,0.05],[0.30,0.14],[0.30,0.10],[0.31,0.17],[0.31,0.08],[0.32,0.12],[0.33,0.05],[0.33,0.15],[0.34,0.22],[0.34,0.10],[0.35,0.21],[0.35,0.13],[0.36,0.07],[0.36,0.16],[0.37,0.11],[0.38,0.14],[0.38,0.09],[0.39,0.18],[0.39,0.12],[0.40,0.22],[0.40,0.07],[0.41,0.22],[0.41,0.10],[0.42,0.23],[0.42,0.14],[0.43,0.08],[0.43,0.12],[0.44,0.16],[0.44,0.05],[0.45,0.10],[0.46,0.19],[0.46,0.18],[0.47,0.13],[0.47,0.07],[0.48,0.11],[0.49,0.22],[0.49,0.15],[0.50,0.21],[0.50,0.09],[0.51,0.12],[0.52,0.07],[0.53,0.10],[0.54,0.13],[0.55,0.08],[0.56,0.11],[0.57,0.09],[0.58,0.12],[0.59,0.23],[0.59,0.05],[0.60,0.10],[0.61,0.08],[0.62,0.10],[0.64,0.05],[0.65,0.13],[0.66,0.09],[0.68,0.03],[0.70,0.07],[0.74,0.09],[0.75,0.11],[0.76,0.08],[0.78,0.02],[0.78,0.01],[0.79,0.05],[0.87,0.02],
  [0.26,0.10],[0.28,0.13],[0.29,0.08],[0.30,0.12],[0.32,0.09],[0.33,0.11],[0.34,0.13],[0.35,0.09],[0.36,0.12],[0.37,0.14],[0.38,0.11],[0.39,0.09],[0.40,0.13],[0.41,0.12],[0.42,0.10],[0.43,0.14],[0.44,0.11],[0.45,0.13],[0.46,0.09],[0.47,0.11],[0.48,0.14],[0.49,0.10],[0.50,0.12],[0.52,0.10],[0.54,0.11],[0.55,0.13],[0.57,0.12],[0.60,0.12],[0.62,0.11]];
const pollNf110 = [[0.08,0.06],[0.09,0.05],[0.10,0.07],[0.10,0.04],[0.11,0.08],[0.11,0.05],[0.12,0.09],[0.12,0.06],[0.13,0.11],[0.13,0.07],[0.14,0.05],[0.14,0.09],[0.15,0.12],[0.15,0.07],[0.16,0.10],[0.16,0.06],[0.17,0.13],[0.17,0.08],[0.18,0.11],[0.18,0.05],[0.19,0.09],[0.19,0.13],[0.20,0.07],[0.20,0.11],[0.21,0.10],[0.21,0.06],[0.22,0.15],[0.22,0.14],[0.22,0.08],[0.23,0.12],[0.23,0.06],[0.24,0.10],[0.24,0.13],[0.25,0.08],[0.25,0.11],[0.26,0.07],[0.26,0.12],[0.27,0.09],[0.27,0.14],[0.28,0.11],[0.28,0.07],[0.29,0.13],[0.29,0.09],[0.30,0.17],[0.30,0.12],[0.31,0.16],[0.31,0.08],[0.32,0.22],[0.32,0.17],[0.32,0.11],[0.33,0.13],[0.33,0.09],[0.34,0.19],[0.34,0.12],[0.35,0.10],[0.36,0.07],[0.37,0.11],[0.38,0.08],[0.40,0.10],[0.42,0.11],[0.46,0.12],[0.50,0.12],
  [0.10,0.06],[0.11,0.07],[0.12,0.08],[0.13,0.09],[0.14,0.07],[0.15,0.10],[0.16,0.08],[0.17,0.10],[0.18,0.07],[0.19,0.11],[0.20,0.09],[0.21,0.12],[0.22,0.10],[0.23,0.09],[0.24,0.11],[0.25,0.10],[0.26,0.09],[0.27,0.11],[0.28,0.13],[0.29,0.10],[0.30,0.14],[0.31,0.12],[0.33,0.11]];
const pollNf150 = [[0.04,0.04],[0.05,0.05],[0.05,0.03],[0.06,0.06],[0.06,0.04],[0.07,0.07],[0.07,0.05],[0.08,0.06],[0.08,0.03],[0.09,0.08],[0.09,0.05],[0.10,0.07],[0.10,0.09],[0.10,0.04],[0.11,0.06],[0.11,0.08],[0.12,0.10],[0.12,0.05],[0.13,0.07],[0.13,0.09],[0.14,0.11],[0.14,0.06],[0.15,0.08],[0.15,0.10],[0.16,0.07],[0.16,0.12],[0.17,0.09],[0.17,0.06],[0.18,0.11],[0.18,0.08],[0.19,0.10],[0.19,0.13],[0.20,0.07],[0.20,0.12],[0.21,0.09],[0.21,0.14],[0.22,0.11],[0.22,0.08],[0.23,0.13],[0.23,0.10],[0.24,0.13],[0.24,0.09],[0.25,0.14],[0.25,0.11],[0.26,0.10],[0.27,0.12],[0.28,0.10],[0.29,0.11],[0.29,0.09],[0.31,0.17],[0.34,0.13],
  [0.06,0.05],[0.07,0.06],[0.08,0.07],[0.09,0.06],[0.10,0.06],[0.11,0.07],[0.12,0.08],[0.13,0.06],[0.14,0.08],[0.15,0.09],[0.16,0.09],[0.17,0.11],[0.18,0.10],[0.19,0.08],[0.20,0.10],[0.21,0.11],[0.22,0.12],[0.23,0.11],[0.25,0.12],[0.27,0.10]];

// Fitted lines (end points as drawn)
const fitCleanHgf = [[[1.04,0.507],[1.652,0.433]], [[1.03,0.653],[1.72,0.27]], [[1.01,0.752],[1.80,0.168]], [[1.047,0.80],[1.80,0.15]]];
const fitPollHgf = [[[1.00,0.571],[1.61,0.625]], [[1.105,0.658],[1.678,0.388]], [[1.156,0.756],[1.738,0.184]], [[1.256,0.786],[1.755,0.163]]];
const fitCleanNf = [[[0.169,0.043],[1.0,0.052]], [[0.157,0.10],[1.0,0.105]], [[0.093,0.085],[1.0,0.188]], [[0.01,0.058],[0.997,0.316]]];
const fitPollNf = [[[0.181,0.155],[1.0,0.053]], [[0.152,0.122],[1.0,0.047]], [[0.094,0.069],[0.61,0.174]], [[0.052,0.056],[0.409,0.172]]];
const oneToOne = [[0, 0], [1, 1]];

// Statistics text
const eqCleanHgf = ['y = -0.12x+0.63', 'y = -0.55x+1.22', 'y = -0.74x+1.50', 'y = -0.87x+1.71'];
const r2CleanHgf = ['0.02', '0.15', '0.46', '0.54'];
const nCleanHgf = ['N = 245', 'N = 242', 'N = 243', 'N = 243'];
const eqPollHgf = ['y= 0.11x+0.44', 'y = -0.47x+1.17', 'y = -0.99x+1.91', 'y = -1.25x+2.35'];
const r2PollHgf = ['0.02', '0.12', '0.31', '0.52'];
const nPollHgf = ['N = 182', 'N = 180', 'N = 183', 'N = 180'];
const eqCleanNf = ['y = -0.01x+0.04', 'y = 0.00x+0.10', 'y = 0.11x+0.07', 'y = 0.26x+0.05'];
const r2CleanNf = ['0.00', '0.00', '0.10', '0.31'];
const nCleanNf = ['N = 245', 'N= 242', 'N= 243', 'N= 243'];
const eqPollNf = ['y = -0.10x+0.14', 'y = -0.10x+0.11', 'y = 0.20x+0.05', 'y = 0.34x+0.03'];
const r2PollNf = ['0.10', '0.01', '0.23', '0.54'];
const nPollNf = ['N = 182', 'N = 180', 'N = 183', 'N = 180'];

// ---------------- LAYOUT / STYLE ----------------
const FONT = '"Liberation Serif", "Times New Roman", serif';
const GREEN = 'rgba(40,140,40,0.75)';
const GRAY = 'rgba(160,160,160,0.85)';
const BLUE = '#1a92da';

const rows = [
  {kind: 'hgf', cond: 'Clean', pts: [cleanHgfVsf50, cleanHgfVsf80, cleanHgfVsf110, cleanHgfVsf150], fit: fitCleanHgf, eq: eqCleanHgf, r2: r2CleanHgf, n: nCleanHgf},
  {kind: 'hgf', cond: 'Pollution', pts: [pollHgfVsf50, pollHgfVsf80, pollHgfVsf110, pollHgfVsf150], fit: fitPollHgf, eq: eqPollHgf, r2: r2PollHgf, n: nPollHgf},
  {kind: 'nf', cond: 'Clean', pts: [cleanNf50, cleanNf80, cleanNf110, cleanNf150], fit: fitCleanNf, eq: eqCleanNf, r2: r2CleanNf, n: nCleanNf},
  {kind: 'nf', cond: 'Pollution', pts: [pollNf50, pollNf80, pollNf110, pollNf150], fit: fitPollNf, eq: eqPollNf, r2: r2PollNf, n: nPollNf}
];

const boxes = [
  [[113,54,357,357],[583,56,357,357],[1038,57,356,356],[1493,57,358,357]],
  [[118,499,360,353],[587,502,357,355],[1041,505,361,353],[1495,504,360,354]],
  [[122,953,358,356],[587,956,357,353],[1044,952,358,356],[1495,951,357,356]],
  [[122,1406,361,353],[587,1404,357,357],[1050,1404,353,359],[1504,1406,355,357]]
];
const yNameGap = [[62,64,54,52],[55,56,53,49],[57,58,60,55],[57,56,54,53]];
const xNameGap = [[40,38,38,38],[36,38,40,40],[40,41,41,38],[50,41,46,39]];
// [eqX, eqY, rY, nY, labelX, labelY]
const textPos = [
  [[140,319,351,380,377,81],[611,323,356,383,845,84],[1067,320,353,380,1289,81],[1521,327,360,387,1744,88]],
  [[145,762,796,824,337,528],[613,768,802,830,803,527],[1061,769,803,832,1265,527],[1522,770,804,831,1723,528]],
  [[145,987,1018,1045,349,987],[608,988,1022,1048,812,988],[1069,988,1023,1048,1272,988],[1514,992,1025,1050,1718,992]],
  [[138,1453,1487,1514,324,1442],[597,1447,1480,1505,789,1436],[1067,1445,1477,1502,1257,1436],[1528,1445,1478,1503,1712,1436]]
];
const titleX = [308, 760, 1212, 1685];
const letterY = [52, 497, 950, 1413];

const tickFmt = v => (Math.abs(v) < 1e-9 ? '0' : v.toFixed(1));
const labelStyle = {fontFamily: FONT, fontWeight: 'bold', fontSize: 30, color: '#000'};
const nameRich = {
  a: {fontFamily: FONT, fontWeight: 'bold', fontSize: 30, color: '#000', verticalAlign: 'bottom', lineHeight: 30},
  b: {fontFamily: FONT, fontWeight: 'bold', fontSize: 19, color: '#000', verticalAlign: 'bottom', lineHeight: 30}
};

const grids = [], xAxes = [], yAxes = [], series = [], graphics = [];

function txt(x, y, text, size, color, align) {
  graphics.push({
    type: 'text', x: x, y: y, z: 100,
    style: {text: text, fill: color, font: 'bold ' + size + 'px ' + FONT,
            textAlign: align || 'left', textVerticalAlign: 'middle', align: align || 'left', verticalAlign: 'middle'}
  });
}

rows.forEach((row, r) => {
  for (let c = 0; c < 4; c++) {
    const idx = r * 4 + c;
    const b = boxes[r][c];
    grids.push({left: b[0], top: b[1], width: b[2], height: b[3], show: true, borderColor: '#000', borderWidth: 2, backgroundColor: 'rgba(0,0,0,0)'});
    const isH = row.kind === 'hgf';
    const common = {
      gridIndex: idx, type: 'value', splitLine: {show: false},
      axisLine: {show: true, onZero: false, lineStyle: {color: '#000', width: 2}},
      nameLocation: 'middle'
    };
    xAxes.push(Object.assign({}, common, {
      min: isH ? 0.982 : -0.018, max: isH ? 1.814 : 1.018,
      axisTick: {show: true, inside: true, length: 8, customValues: isH ? hgfTicks : fracTicks, lineStyle: {color: '#000', width: 1.5}},
      axisLabel: Object.assign({customValues: isH ? hgfTicks : fracTicks, formatter: tickFmt, margin: 10}, labelStyle),
      name: isH ? '{a|HGF}' : '{a|NF}{b|NH}', nameGap: xNameGap[r][c], nameTextStyle: {rich: nameRich}
    }));
    yAxes.push(Object.assign({}, common, {
      min: isH ? -0.022 : -0.018, max: isH ? 1.022 : 1.018,
      axisTick: {show: true, inside: true, length: 10, customValues: fracTicks, lineStyle: {color: '#000', width: 1.5}},
      axisLabel: Object.assign({customValues: fracTicks, formatter: tickFmt, margin: 9}, labelStyle),
      name: isH ? '{a|VSF}' : '{a|NF}{b|NV}', nameGap: yNameGap[r][c], nameRotate: 90, nameTextStyle: {rich: nameRich}
    }));
    if (!isH) {
      series.push({type: 'line', xAxisIndex: idx, yAxisIndex: idx, data: oneToOne, symbol: 'none', silent: true,
        lineStyle: {color: '#666', width: 2, type: [9, 7]}, animation: false, z: 1});
    }
    series.push({type: 'scatter', xAxisIndex: idx, yAxisIndex: idx, data: row.pts[c], symbol: 'circle', symbolSize: 9,
      itemStyle: {color: 'rgba(255,255,255,0)', borderColor: row.cond === 'Clean' ? GREEN : GRAY, borderWidth: 1.1},
      animation: false, z: 2});
    series.push({type: 'line', xAxisIndex: idx, yAxisIndex: idx, data: row.fit[c], symbol: 'none', silent: true,
      lineStyle: {color: BLUE, width: 2.6}, animation: false, z: 3});

    const tp = textPos[r][c];
    txt(tp[0], tp[1], row.eq[c], 27, BLUE);
    const rTxt = r === 0 ? 'R \u2009= ' + row.r2[c] : 'R= ' + row.r2[c];
    txt(tp[0], tp[2], rTxt, 27, '#000');
    txt(tp[0] + 19, tp[2] - 16, '2', 19, '#000');
    txt(tp[0], tp[3], row.n[c], 27, '#000');
    txt(tp[4], tp[5], row.cond, 28, row.cond === 'Clean' ? '#1e8a28' : '#7a7a7a');
  }
});

sizeTitles.forEach((t, c) => txt(titleX[c], 32, t, 32, '#404040', 'center'));
rowLetters.forEach((t, r) => txt(18, letterY[r], t, 34, '#555', 'left'));

const chart = echarts.init(document.getElementById('c'), null, {renderer: 'canvas'});
chart.setOption({
  animation: false,
  backgroundColor: '#fff',
  textStyle: {fontFamily: FONT},
  grid: grids, xAxis: xAxes, yAxis: yAxes, series: series,
  graphic: graphics
});
</script>
</body></html>
